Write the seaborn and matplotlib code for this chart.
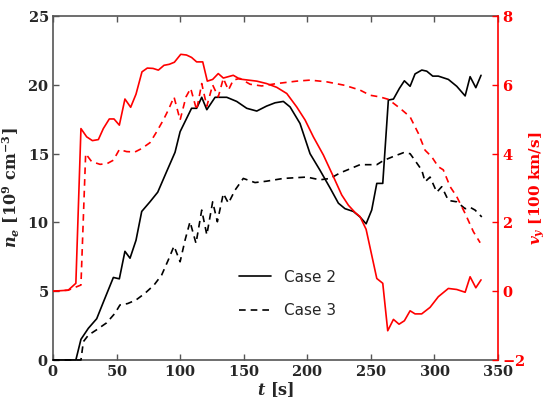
import matplotlib
matplotlib.use("Agg")
import matplotlib.pyplot as plt
from matplotlib.ticker import FuncFormatter
import seaborn as sns
import pandas as pd

# Case 2 density n_e [10^9 cm^-3]
t_ne2 = [0, 18, 22, 27.8, 34.4, 39.6, 47.5, 52.2, 56.6, 60.6, 65.3, 69.8, 76.3, 82.4, 89.4, 96, 100,
         109, 113, 117, 121, 127.5, 136.7, 144.5, 152.4, 160.3, 168, 174.7, 181.2, 186.5, 194.3, 202.2,
         210, 218, 224.5, 229.7, 236.3, 241.5, 246.3, 250.7, 254.7, 259.4, 263.8, 267.8, 272.5, 276.4,
         280.9, 284.8, 290.1, 294, 298.7, 303.1, 311, 317.6, 324.2, 328.1, 332.6, 336.7]
ne2 = [0, 0, 1.5, 2.3, 3.0, 4.2, 6.0, 5.9, 7.9, 7.4, 8.7, 10.8, 11.5, 12.2, 13.7, 15.1, 16.6,
       18.3, 18.3, 19.1, 18.2, 19.1, 19.1, 18.8, 18.3, 18.1, 18.46, 18.7, 18.8, 18.4, 17.2, 15.0,
       13.8, 12.5, 11.4, 11.0, 10.8, 10.4, 9.9, 10.9, 12.84, 12.84, 18.9, 18.97, 19.75, 20.3,
       19.9, 20.8, 21.08, 21.0, 20.64, 20.64, 20.4, 19.9, 19.2, 20.6, 19.8, 20.7]

# Case 3 density
t_ne3 = [0, 22, 23.9, 27.8, 34.4, 42.2, 48.8, 52.7, 58.7, 65.3, 72.4, 79.5, 85.5, 90.7, 95.2, 100,
         103.9, 107.8, 112.5, 117, 121, 125.6, 129.3, 134, 138, 143.2, 149.7, 158.9, 168, 181.2,
         199.6, 210, 218, 225.8, 233.7, 241.5, 249.4, 254.7, 259.9, 267.8, 275.6, 280.9, 284.8,
         290.1, 292.7, 296.6, 301.9, 305.8, 311, 317.6, 324.2, 328.1, 332, 337.3]
ne3 = [0, 0, 1.33, 1.8, 2.2, 2.7, 3.4, 4.0, 4.1, 4.36, 4.85, 5.45, 6.18, 7.27, 8.28, 7.14,
       8.72, 10.05, 8.48, 10.9, 9.1, 11.5, 10.05, 12.1, 11.4, 12.35, 13.2, 12.9, 13.0, 13.2,
       13.3, 13.1, 13.2, 13.6, 13.9, 14.2, 14.2, 14.2, 14.5, 14.8, 15.07, 15.0, 14.5,
       13.8, 12.96, 13.3, 12.2, 12.6, 11.6, 11.5, 11.0, 11.1, 10.9, 10.4]

# Case 2 velocity v_y [100 km/s]
t_v2 = [0, 12, 18, 22, 26.5, 31, 35.7, 39.6, 44.3, 48, 52.2, 56.6, 61.1, 65.3, 70, 74.2, 78.7,
        82.9, 87.3, 91.5, 95.5, 100.5, 105, 109, 113, 117.8, 121.4, 125.6, 130, 134, 141.8, 147,
        160.3, 168, 176, 183.9, 191.7, 198.3, 204.8, 212.7, 220.6, 227.1, 232.4, 237.6, 241.5,
        246.3, 254.7, 259.4, 263.3, 267.8, 272.2, 276.4, 280.9, 284.8, 290, 296.6, 303.1, 311,
        317.6, 324.2, 328.1, 332.6, 336.7]
v2 = [0, 0.03, 0.23, 4.73, 4.49, 4.38, 4.41, 4.73, 5.01, 5.01, 4.83, 5.59, 5.35, 5.73, 6.38, 6.49, 6.48,
      6.43, 6.57, 6.6, 6.66, 6.89, 6.87, 6.8, 6.67, 6.67, 6.11, 6.16, 6.33, 6.2, 6.28, 6.17,
      6.11, 6.04, 5.93, 5.75, 5.36, 4.98, 4.49, 3.96, 3.33, 2.8, 2.5, 2.29, 2.17,
      1.8, 0.37, 0.23, -1.15, -0.82, -0.96, -0.86, -0.57, -0.66, -0.66, -0.47, -0.16, 0.08,
      0.05, -0.03, 0.42, 0.1, 0.33]

# Case 3 velocity
t_v3 = [0, 12, 22, 25.7, 30.4, 37, 42.5, 47.5, 52.2, 58, 64.5, 69.8, 76.3, 81.6, 86.8, 90.7, 95.2,
        100, 104.6, 108.3, 113, 117, 121, 125.6, 130, 134, 138, 141.8, 147, 155, 164.2, 176,
        191.7, 202.2, 215.3, 229.3, 241.5, 249.4, 257.3, 263.8, 273, 280.9, 287.4, 292.7, 297.9,
        303.1, 307, 312.4, 317.6, 324.2, 330.7, 336]
v3 = [0, 0.03, 0.18, 4.0, 3.77, 3.69, 3.71, 3.81, 4.12, 4.06, 4.05, 4.15, 4.32, 4.64, 4.98, 5.27, 5.65,
      4.98, 5.65, 5.9, 5.27, 6.04, 5.38, 6.0, 5.65, 6.19, 5.85, 6.14, 6.19, 6.02, 5.97, 6.04,
      6.11, 6.14, 6.09, 5.99, 5.85, 5.7, 5.65, 5.58, 5.32, 5.07, 4.59, 4.1, 3.91,
      3.62, 3.53, 3.04, 2.75, 2.26, 1.73, 1.41]

x_ticks = [0, 50, 100, 150, 200, 250, 300, 350]
ne_ticks = [0, 5, 10, 15, 20, 25]
v_ticks = [-2, 0, 2, 4, 6, 8]

sns.set_style("ticks")
plt.rcParams["mathtext.fontset"] = "custom"
plt.rcParams["mathtext.rm"] = "DejaVu Serif:bold"
plt.rcParams["mathtext.bf"] = "DejaVu Serif:bold"
plt.rcParams["mathtext.it"] = "DejaVu Serif:italic:bold"
plt.rcParams["mathtext.default"] = "rm"
plt.rcParams["font.family"] = ["DejaVu Sans"]

RED = "#ff0000"
GRAY = "#555555"

fig = plt.figure(figsize=(5.49, 4.04), dpi=100)
ax = fig.add_axes([0.0965, 0.109, 0.8105, 0.851])
ax2 = ax.twinx()

d2 = pd.DataFrame({"t": t_ne2, "y": ne2})
d3 = pd.DataFrame({"t": t_ne3, "y": ne3})
dv2 = pd.DataFrame({"t": t_v2, "y": v2})
dv3 = pd.DataFrame({"t": t_v3, "y": v3})

sns.lineplot(data=d2, x="t", y="y", ax=ax, color="black", lw=1.2, label="Case 2", sort=False)
sns.lineplot(data=d3, x="t", y="y", ax=ax, color="black", lw=1.2, label="Case 3", sort=False)
ax.lines[1].set_dashes((4, 3))
for ln in ax.lines:
    ln.set_zorder(3)
    ln.set_clip_on(False)
sns.lineplot(data=dv2, x="t", y="y", ax=ax2, color=RED, lw=1.2, sort=False, legend=False)
sns.lineplot(data=dv3, x="t", y="y", ax=ax2, color=RED, lw=1.2, sort=False, legend=False)
ax2.lines[1].set_dashes((4, 3))

ax.set_xlim(0, 350)
ax.set_ylim(0, 25)
ax2.set_ylim(-2, 8)
ax.set_xticks(x_ticks)
ax.set_yticks(ne_ticks)
ax2.set_yticks(v_ticks)

def fmt(v, pos):
    return r"$%d$" % v

for a in (ax.xaxis, ax.yaxis, ax2.yaxis):
    a.set_major_formatter(FuncFormatter(fmt))

ax.tick_params(axis="both", direction="in", labelsize=10.5, top=True, right=False,
               color=GRAY, length=4, width=1, pad=3)
ax2.tick_params(axis="y", direction="in", labelsize=10.5, colors=RED, length=4, width=1, pad=3)

for s in ["left", "bottom", "top"]:
    ax.spines[s].set_color(GRAY)
    ax.spines[s].set_linewidth(1.2)
for s in ["left", "bottom", "top"]:
    ax2.spines[s].set_visible(False)
ax2.spines["right"].set_color(RED)
ax2.spines["right"].set_linewidth(1.2)
ax.spines["right"].set_visible(False)

ax.set_xlabel(r"$\mathit{t}\ [s]$", fontsize=11.5, labelpad=1)
ax.set_ylabel(r"$\mathit{n_e}\ [10^9\ cm^{-3}]$", fontsize=11.5, labelpad=4)
ax2.set_ylabel(r"$\mathit{v_y}\ [100\ km/s]$", fontsize=11, color=RED, labelpad=1.5)

leg = ax.legend(loc="center", bbox_to_anchor=(0.527, 0.192), frameon=False, fontsize=11,
                handlelength=2.1, labelspacing=1.2, handletextpad=0.8)

fig.savefig("out.png", dpi=100)
